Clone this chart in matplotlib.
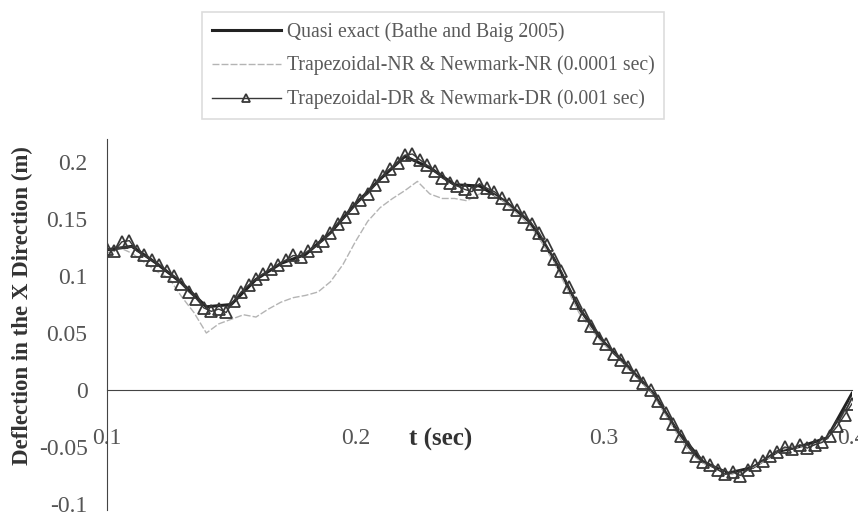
import numpy as np
import matplotlib
matplotlib.use('Agg')
import matplotlib.pyplot as plt

# deflection values (m)
quasi_vals = [0.123, 0.126, 0.111, 0.094, 0.073, 0.075, 0.097, 0.111, 0.119, 0.138,
              0.163, 0.185, 0.205, 0.195, 0.180, 0.179, 0.166, 0.148, 0.115, 0.072,
              0.042, 0.020, -0.003, -0.037, -0.063, -0.073, -0.068, -0.054, -0.049, -0.042,
              -0.003]

nr_vals = [0.120, 0.125, 0.120, 0.112, 0.104, 0.098, 0.082, 0.068, 0.050, 0.058,
           0.062, 0.066, 0.064, 0.071, 0.077, 0.081, 0.083, 0.086, 0.095, 0.110,
           0.130, 0.148, 0.160, 0.168, 0.175, 0.183, 0.172, 0.168, 0.168, 0.166,
           0.172, 0.172, 0.165, 0.155, 0.145, 0.130, 0.112, 0.090, 0.068, 0.053,
           0.040, 0.030, 0.018, 0.008, -0.004, -0.022, -0.040, -0.056, -0.064, -0.068,
           -0.074, -0.074, -0.068, -0.062, -0.054, -0.050, -0.050, -0.048, -0.042, -0.028,
           -0.006]

dr_vals = [0.124, 0.122, 0.130, 0.131, 0.122, 0.118, 0.114, 0.110, 0.104, 0.100,
           0.093, 0.086, 0.080, 0.072, 0.069, 0.071, 0.068, 0.078, 0.086, 0.092,
           0.097, 0.102, 0.106, 0.110, 0.114, 0.118, 0.117, 0.122, 0.126, 0.131,
           0.138, 0.146, 0.152, 0.160, 0.167, 0.172, 0.180, 0.188, 0.194, 0.199,
           0.206, 0.207, 0.202, 0.197, 0.192, 0.186, 0.182, 0.179, 0.176, 0.174,
           0.181, 0.177, 0.174, 0.168, 0.163, 0.158, 0.152, 0.146, 0.138, 0.127,
           0.115, 0.104, 0.090, 0.076, 0.066, 0.056, 0.046, 0.040, 0.032, 0.026,
           0.020, 0.013, 0.006, 0.000, -0.010, -0.020, -0.030, -0.040, -0.050, -0.058,
           -0.063, -0.066, -0.070, -0.074, -0.072, -0.075, -0.070, -0.066, -0.062, -0.058,
           -0.054, -0.050, -0.052, -0.048, -0.051, -0.048, -0.046, -0.040, -0.032, -0.022,
           -0.012]

quasi_t = 0.1 + 0.01 * np.arange(len(quasi_vals))
nr_t = 0.1 + 0.005 * np.arange(len(nr_vals))
dr_t = 0.1 + 0.003 * np.arange(len(dr_vals))

x_ticks = [0.1, 0.2, 0.3, 0.4]
x_labels = ['0.1', '0.2', '0.3', '0.4']
y_ticks = [0.2, 0.15, 0.1, 0.05, 0, -0.05, -0.1]
y_labels = ['0.2', '0.15', '0.1', '0.05', '0', '-0.05', '-0.1']

plt.rcParams['font.family'] = ['Liberation Serif', 'DejaVu Serif']

fig = plt.figure(figsize=(8.58, 5.2), dpi=100)
ax = fig.add_axes([0.1247, 0.0198, 0.8683, 0.7125])

l1, = ax.plot(quasi_t, quasi_vals, color='#222222', lw=2.2,
              label='Quasi exact (Bathe and Baig 2005)')
l2, = ax.plot(nr_t, nr_vals, color='#b4b4b4', lw=1, linestyle=(0, (5, 1.5)),
              label='Trapezoidal-NR & Newmark-NR (0.0001 sec)')
l3, = ax.plot(dr_t, dr_vals, color='#383838', lw=1, marker='^', ms=9,
              mfc='none', mec='#383838', mew=1.3,
              label='Trapezoidal-DR & Newmark-DR (0.001 sec)')

ax.set_xlim(0.1, 0.4)
ax.set_ylim(-0.105, 0.22)
ax.spines['top'].set_visible(False)
ax.spines['right'].set_visible(False)
ax.spines['bottom'].set_position(('data', 0))
ax.spines['bottom'].set_color('#444444')
ax.spines['left'].set_color('#444444')

ax.set_xticks(x_ticks)
ax.set_xticklabels(x_labels)
ax.set_yticks(y_ticks)
ax.set_yticklabels(y_labels)
ax.tick_params(axis='x', length=0, pad=27, labelsize=17, labelcolor='#555555')
ax.tick_params(axis='y', length=0, pad=14, labelsize=17, labelcolor='#555555')

fig.text(0.026, 0.413, 'Deflection in the X Direction (m)', rotation=90,
         ha='center', va='center', fontsize=16.5, fontweight='bold', color='#333333')
fig.text(0.513, 0.154, 't (sec)', ha='center', va='center',
         fontsize=18, fontweight='bold', color='#333333')

leg = fig.legend(handles=[l1, l2, l3], loc='upper left',
                 bbox_to_anchor=(0.2355, 0.977), borderaxespad=0,
                 fontsize=14.2, handlelength=3.5, handletextpad=0.3,
                 labelspacing=0.72, borderpad=0.5,
                 frameon=True, fancybox=False, edgecolor='#d4d4d4', markerscale=0.7)
leg.get_frame().set_linewidth(1.2)
for txt in leg.get_texts():
    txt.set_color('#5a5a5a')

fig.savefig('out.png', dpi=100)
